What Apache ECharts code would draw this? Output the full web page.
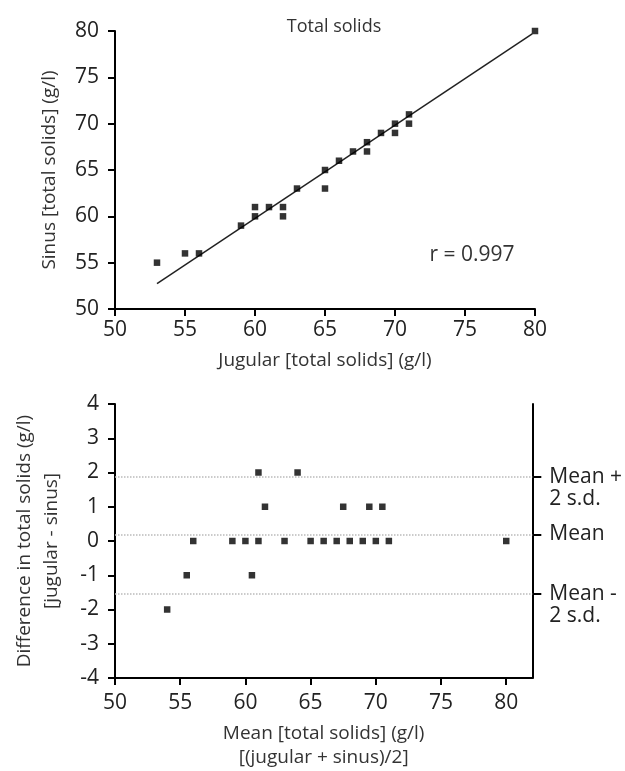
<!DOCTYPE html>
<html>
<head>
<meta charset="utf-8">
<script src="https://cdn.jsdelivr.net/npm/echarts@6/dist/echarts.min.js"></script>
<style>
html,body{margin:0;padding:0;background:#fff;}
#chart{width:625px;height:771px;}
</style>
</head>
<body>
<div id="chart"></div>
<script>
// ---- Data ----
// Top panel: jugular vs sinus total solids (g/l)
var jugular = [53,55,56,59,60,60,61,62,62,63,65,65,66,67,68,68,69,70,70,71,71,80];
var sinus   = [55,56,56,59,60,61,61,61,60,63,65,63,66,67,68,67,69,70,69,71,70,80];
// Regression line end points (as drawn)
var regLineX = [53, 79.8];
var regLineY = [52.75, 79.7];
var rText = 'r = 0.997';
var topTitle = 'Total solids';

// Bottom panel: Bland-Altman (mean vs difference)
var baMean = [54,55.5,56,59,60,60.5,61,61.5,61,63,65,64,66,67,68,67.5,69,70,69.5,71,70.5,80];
var baDiff = [-2,-1,0,0,0,-1,0,1,2,0,0,2,0,0,0,1,0,0,1,0,1,0];
// Reference lines: Mean + 2 s.d., Mean, Mean - 2 s.d.
var refValues = [1.87, 0.19, -1.54];
var refLabels = ['Mean +\n2 s.d.', 'Mean', 'Mean -\n2 s.d.'];
var bottomXTicks = [50,55,60,65,70,75,80];

var topPoints = jugular.map(function(v,i){return [v, sinus[i]];});
var regLine = regLineX.map(function(v,i){return [v, regLineY[i]];});
var baPoints = baMean.map(function(v,i){return [v, baDiff[i]];});

var FONT = '"Open Sans", "Noto Sans", sans-serif';
var axisLineStyle = {color:'#000', width:2};
var tickCommon = {show:true, inside:false, length:7, lineStyle:{color:'#000', width:2}};
var labelCommon = {color:'#222', fontSize:21, fontFamily:FONT};
var nameCommon = {color:'#333', fontSize:19, fontFamily:FONT, lineHeight:24};

var chart = echarts.init(document.getElementById('chart'), null, {renderer:'canvas'});
chart.setOption({
  animation:false,
  backgroundColor:'#fff',
  title:[
    {text: topTitle, left: 329, top: 13, textAlign:'center',
     textStyle:{color:'#333', fontSize:18, fontWeight:'normal', fontFamily:FONT}},
    {text: rText, left: 467, top: 240, textAlign:'center',
     textStyle:{color:'#333', fontSize:21, fontWeight:'normal', fontFamily:FONT}}
  ],
  grid:[
    {left:115, top:31, width:420, height:278},
    {left:115, top:404, width:418, height:277}
  ],
  xAxis:[
    {gridIndex:0, type:'value', min:50, max:80, interval:5,
     name:'Jugular [total solids] (g/l)', nameLocation:'middle', nameGap:40, nameTextStyle:nameCommon,
     axisLine:{show:true, onZero:false, lineStyle:axisLineStyle},
     axisTick:tickCommon, axisLabel:Object.assign({margin:11}, labelCommon),
     splitLine:{show:false}},
    {gridIndex:1, type:'value', min:50, max:82,
     name:'Mean [total solids] (g/l)\n[(jugular + sinus)/2]', nameLocation:'middle', nameGap:44, nameTextStyle:nameCommon,
     axisLine:{show:true, onZero:false, lineStyle:axisLineStyle},
     axisTick:Object.assign({customValues:bottomXTicks}, tickCommon),
     axisLabel:Object.assign({margin:15, customValues:bottomXTicks}, labelCommon),
     splitLine:{show:false}}
  ],
  yAxis:[
    {gridIndex:0, type:'value', min:50, max:80, interval:5,
     name:'Sinus [total solids] (g/l)', nameLocation:'middle', nameGap:53, nameTextStyle:nameCommon,
     axisLine:{show:true, onZero:false, lineStyle:axisLineStyle},
     axisTick:tickCommon, axisLabel:Object.assign({margin:16}, labelCommon),
     splitLine:{show:false}},
    {gridIndex:1, type:'value', min:-4, max:4, interval:1,
     name:'Difference in total solids (g/l)\n[jugular - sinus]', nameLocation:'middle', nameGap:50,
     nameTextStyle:Object.assign({}, nameCommon, {lineHeight:27}),
     axisLine:{show:true, onZero:false, lineStyle:axisLineStyle},
     axisTick:tickCommon, axisLabel:Object.assign({margin:16}, labelCommon),
     splitLine:{show:false}},
    {gridIndex:1, type:'value', min:-4, max:4, position:'right',
     axisLine:{show:true, onZero:false, lineStyle:axisLineStyle},
     axisTick:Object.assign({customValues:refValues}, tickCommon, {length:9}),
     axisLabel:Object.assign({}, labelCommon, {margin:17, customValues:refValues, lineHeight:22, align:'left',
       padding:[4,0,0,0],
       formatter:function(v){
         var best = 0, d = Infinity;
         for (var i=0;i<refValues.length;i++){ var dd=Math.abs(refValues[i]-v); if(dd<d){d=dd;best=i;} }
         var t = refLabels[best];
         return t.indexOf('\n')>=0 ? '\n' + t : t;
       }}),
     splitLine:{show:false}}
  ],
  series:[
    {type:'scatter', xAxisIndex:0, yAxisIndex:0, data:topPoints,
     symbol:'rect', symbolSize:6.5, itemStyle:{color:'#000'}, z:3},
    {type:'line', xAxisIndex:0, yAxisIndex:0, data:regLine,
     symbol:'none', lineStyle:{color:'#222', width:1.5}, z:2},
    {type:'scatter', xAxisIndex:1, yAxisIndex:1, data:baPoints,
     symbol:'rect', symbolSize:6.5, itemStyle:{color:'#000'}, z:3,
     markLine:{silent:true, symbol:['none','none'], label:{show:false},
       lineStyle:{color:'#bbb', type:'dotted', width:1.5},
       data: refValues.map(function(v){return {yAxis:v};})}}
  ]
});
</script>
</body>
</html>
